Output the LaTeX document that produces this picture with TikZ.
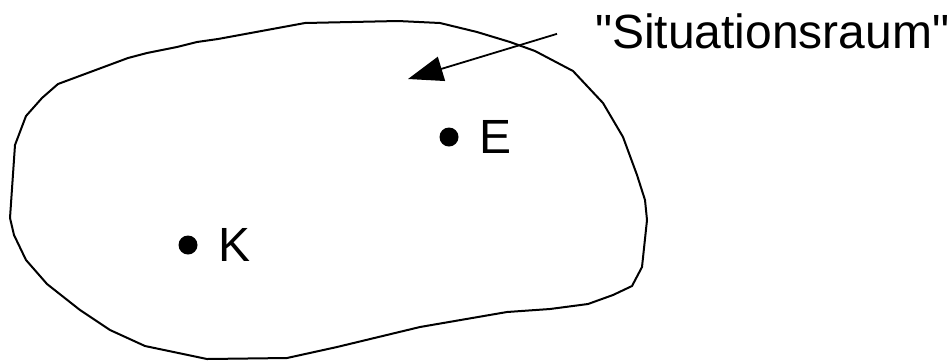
\documentclass[tikz,border=0pt]{standalone}
\usepackage{fontspec}
\setmainfont{Liberation Sans}
\usetikzlibrary{positioning, arrows.meta}

\tikzset{
    dot/.style={circle, fill, inner sep=0pt, minimum size=19pt},
    lbl/.style={inner sep=0pt, font=\fontsize{48}{57}\selectfont},
}

\begin{document}
\begin{tikzpicture}[x=1pt, y=-1pt, line width=2pt, line join=round]
    \useasboundingbox (0,0) rectangle (949,360);
    % Outline
    \draw (398,21) -- (440,23) -- (477,32) -- (510,42) -- (535,51) -- (573,71)
        -- (603,103) -- (623,137) -- (637,175) -- (645,200) -- (647,220)
        -- (642,267) -- (632,286) -- (613,295) -- (588,304) -- (550,309)
        -- (507,312) -- (420,327) -- (337,347) -- (287,358) -- (207,359)
        -- (145,346) -- (110,330) -- (80,310) -- (47,284) -- (26,260)
        -- (14,235) -- (10,218) -- (15,145) -- (26,116) -- (42,98) -- (58,84)
        -- (128,58) -- (147,53) -- (177,47) -- (197,42) -- (218,39) -- (305,23)
        -- cycle;
    % Points
    \node[dot] (e) at (449,137) {};
    \node[lbl, right=19pt of e] (elbl) {E};
    \node[dot] (k) at (188,245) {};
    \node[lbl, right=19pt of k] (klbl) {K};
    % Label with arrow
    \node[lbl, anchor=base west] (raum) at (594,48) {\textquotedbl Situationsraum\textquotedbl};
    \coordinate (from) at ([xshift=-37pt, yshift=-3pt]raum.west);
    \coordinate (tip) at (408,79);
    \draw[-{Triangle[length=35pt, width=25pt]}, line width=1.8pt] (from) -- (tip);
\end{tikzpicture}
\end{document}
